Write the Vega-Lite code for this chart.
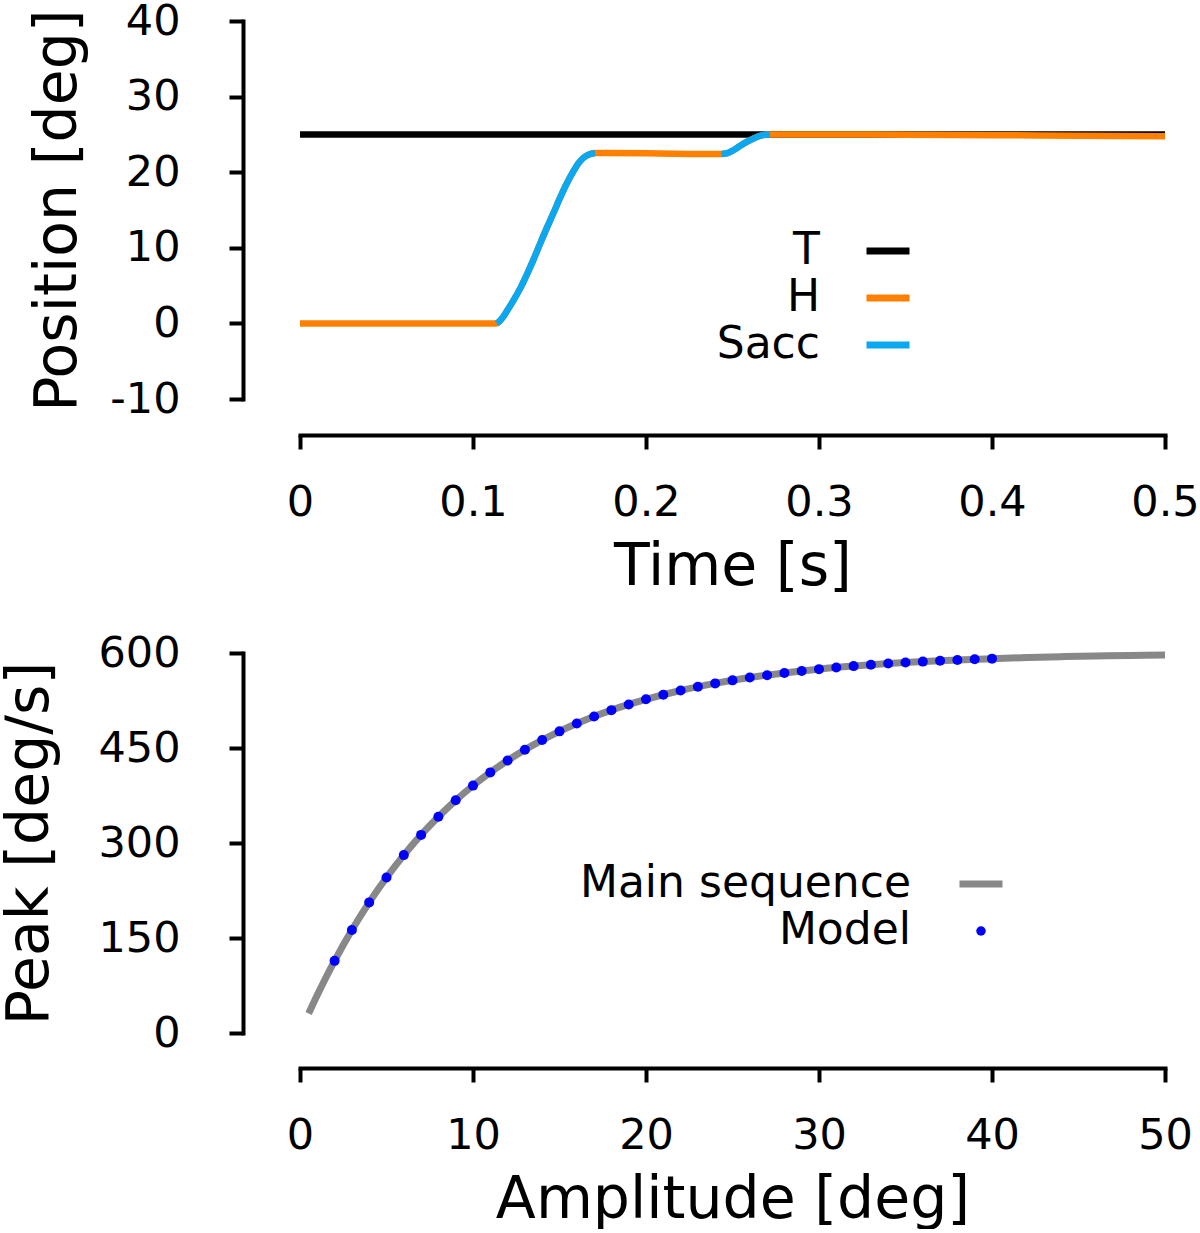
{
  "$schema": "https://vega.github.io/schema/vega-lite/v6.json",
  "background": "white",
  "padding": {"left": 0, "top": 0, "right": 0, "bottom": 0},
  "spacing": 254,
  "bounds": "flush",
  "resolve": {"scale": {"color": "independent"}, "legend": {"color": "independent"}},
  "config": {
    "view": {"stroke": null},
    "font": "DejaVu Sans",
    "axis": {
      "domainColor": "#000000", "domainWidth": 4, "domainCap": "square",
      "tickColor": "#000000", "tickWidth": 4, "tickSize": 14,
      "labelFont": "DejaVu Sans", "labelFontSize": 43, "labelColor": "#000000",
      "titleFont": "DejaVu Sans", "titleFontSize": 58.5, "titleFontWeight": "normal", "titleColor": "#000000",
      "grid": false, "labelFlush": false, "labelOverlap": false,
      "labelExpr": "'' + datum.value"
    },
    "axisY": {"labelPadding": 49},
    "axisX": {"labelPadding": 32, "titlePadding": 14},
    "legend": {
      "orient": "none", "title": null, "padding": 0,
      "labelFont": "DejaVu Sans", "labelFontSize": 44, "labelColor": "#000000",
      "labelAlign": "right", "labelOffset": -93, "labelLimit": 700,
      "symbolType": "stroke", "symbolSize": 1849, "symbolStrokeWidth": 7,
      "rowPadding": 4
    }
  },
  "vconcat": [
    {
      "width": 865,
      "height": 378,
      "data": {"values": [
        {"series": "T", "seg": 0, "t": 0, "pos": 25},
        {"series": "T", "seg": 0, "t": 0.5, "pos": 25},
        {"series": "H", "seg": 0, "t": 0, "pos": 0},
        {"series": "H", "seg": 0, "t": 0.1137, "pos": 0},
        {"series": "H", "seg": 0, "t": 0.1156, "pos": 0.35},
        {"series": "H", "seg": 0, "t": 0.1175, "pos": 0.9},
        {"series": "H", "seg": 0, "t": 0.1195, "pos": 1.6},
        {"series": "H", "seg": 0, "t": 0.1233, "pos": 3.0},
        {"series": "H", "seg": 0, "t": 0.1272, "pos": 4.6},
        {"series": "H", "seg": 0, "t": 0.131, "pos": 6.4},
        {"series": "H", "seg": 0, "t": 0.1349, "pos": 8.4},
        {"series": "H", "seg": 0, "t": 0.1387, "pos": 10.5},
        {"series": "H", "seg": 0, "t": 0.1426, "pos": 12.6},
        {"series": "H", "seg": 0, "t": 0.1465, "pos": 14.6},
        {"series": "H", "seg": 0, "t": 0.1503, "pos": 16.6},
        {"series": "H", "seg": 0, "t": 0.1542, "pos": 18.5},
        {"series": "H", "seg": 0, "t": 0.158, "pos": 20.1},
        {"series": "H", "seg": 0, "t": 0.161, "pos": 21.2},
        {"series": "H", "seg": 0, "t": 0.1638, "pos": 21.9},
        {"series": "H", "seg": 0, "t": 0.1665, "pos": 22.3},
        {"series": "H", "seg": 0, "t": 0.1705, "pos": 22.55},
        {"series": "H", "seg": 0, "t": 0.2, "pos": 22.5},
        {"series": "H", "seg": 0, "t": 0.2437, "pos": 22.4},
        {"series": "H", "seg": 0, "t": 0.2475, "pos": 22.55},
        {"series": "H", "seg": 0, "t": 0.2505, "pos": 22.9},
        {"series": "H", "seg": 0, "t": 0.2545, "pos": 23.5},
        {"series": "H", "seg": 0, "t": 0.2582, "pos": 24.0},
        {"series": "H", "seg": 0, "t": 0.2625, "pos": 24.5},
        {"series": "H", "seg": 0, "t": 0.2659, "pos": 24.8},
        {"series": "H", "seg": 0, "t": 0.269, "pos": 24.95},
        {"series": "H", "seg": 0, "t": 0.2717, "pos": 25.0},
        {"series": "H", "seg": 0, "t": 0.3, "pos": 25.0},
        {"series": "H", "seg": 0, "t": 0.35, "pos": 24.95},
        {"series": "H", "seg": 0, "t": 0.4, "pos": 24.9},
        {"series": "H", "seg": 0, "t": 0.45, "pos": 24.82},
        {"series": "H", "seg": 0, "t": 0.5, "pos": 24.75},
        {"series": "Sacc", "seg": 1, "t": 0.1137, "pos": 0},
        {"series": "Sacc", "seg": 1, "t": 0.1156, "pos": 0.35},
        {"series": "Sacc", "seg": 1, "t": 0.1175, "pos": 0.9},
        {"series": "Sacc", "seg": 1, "t": 0.1195, "pos": 1.6},
        {"series": "Sacc", "seg": 1, "t": 0.1233, "pos": 3.0},
        {"series": "Sacc", "seg": 1, "t": 0.1272, "pos": 4.6},
        {"series": "Sacc", "seg": 1, "t": 0.131, "pos": 6.4},
        {"series": "Sacc", "seg": 1, "t": 0.1349, "pos": 8.4},
        {"series": "Sacc", "seg": 1, "t": 0.1387, "pos": 10.5},
        {"series": "Sacc", "seg": 1, "t": 0.1426, "pos": 12.6},
        {"series": "Sacc", "seg": 1, "t": 0.1465, "pos": 14.6},
        {"series": "Sacc", "seg": 1, "t": 0.1503, "pos": 16.6},
        {"series": "Sacc", "seg": 1, "t": 0.1542, "pos": 18.5},
        {"series": "Sacc", "seg": 1, "t": 0.158, "pos": 20.1},
        {"series": "Sacc", "seg": 1, "t": 0.161, "pos": 21.2},
        {"series": "Sacc", "seg": 1, "t": 0.1638, "pos": 21.9},
        {"series": "Sacc", "seg": 1, "t": 0.1665, "pos": 22.3},
        {"series": "Sacc", "seg": 1, "t": 0.1705, "pos": 22.55},
        {"series": "Sacc", "seg": 2, "t": 0.2437, "pos": 22.4},
        {"series": "Sacc", "seg": 2, "t": 0.2475, "pos": 22.55},
        {"series": "Sacc", "seg": 2, "t": 0.2505, "pos": 22.9},
        {"series": "Sacc", "seg": 2, "t": 0.2545, "pos": 23.5},
        {"series": "Sacc", "seg": 2, "t": 0.2582, "pos": 24.0},
        {"series": "Sacc", "seg": 2, "t": 0.2625, "pos": 24.5},
        {"series": "Sacc", "seg": 2, "t": 0.2659, "pos": 24.8},
        {"series": "Sacc", "seg": 2, "t": 0.269, "pos": 24.95},
        {"series": "Sacc", "seg": 2, "t": 0.2717, "pos": 25.0}
      ]},
      "encoding": {
        "x": {"field": "t", "type": "quantitative",
              "scale": {"domain": [0, 0.5], "nice": false, "zero": false},
              "axis": {"title": "Time [s]", "values": [0, 0.1, 0.2, 0.3, 0.4, 0.5], "offset": 36}},
        "y": {"field": "pos", "type": "quantitative",
              "scale": {"domain": [-10, 40], "nice": false},
              "axis": {"title": "Position [deg]", "values": [-10, 0, 10, 20, 30, 40], "offset": 57, "titlePadding": 22}},
        "color": {"field": "series", "type": "nominal",
                  "scale": {"domain": ["T", "H", "Sacc"], "range": ["#000000", "#ff8000", "#0aa8f0"]},
                  "legend": {"legendX": 563, "legendY": 205, "rowPadding": 0}}
      },
      "layer": [
        {"transform": [{"filter": "datum.series === 'T'"}],
         "mark": {"type": "line", "strokeWidth": 6.5}},
        {"transform": [{"filter": "datum.series === 'H'"}],
         "mark": {"type": "line", "strokeWidth": 6.5, "interpolate": "monotone"}},
        {"transform": [{"filter": "datum.series === 'Sacc'"}],
         "mark": {"type": "line", "strokeWidth": 6.5, "interpolate": "monotone"},
         "encoding": {"detail": {"field": "seg", "type": "nominal"}}}
      ]
    },
    {
      "width": 865,
      "height": 380,
      "data": {"values": [
        {"series": "Main sequence", "a": 0.5, "v": 30.8},
        {"series": "Main sequence", "a": 1, "v": 59.9},
        {"series": "Main sequence", "a": 1.5, "v": 87.6},
        {"series": "Main sequence", "a": 2, "v": 113.9},
        {"series": "Main sequence", "a": 3, "v": 162.5},
        {"series": "Main sequence", "a": 4, "v": 206.2},
        {"series": "Main sequence", "a": 5, "v": 245.5},
        {"series": "Main sequence", "a": 6, "v": 280.9},
        {"series": "Main sequence", "a": 7, "v": 312.8},
        {"series": "Main sequence", "a": 8, "v": 341.5},
        {"series": "Main sequence", "a": 9, "v": 367.4},
        {"series": "Main sequence", "a": 10, "v": 390.6},
        {"series": "Main sequence", "a": 11, "v": 411.5},
        {"series": "Main sequence", "a": 12, "v": 430.3},
        {"series": "Main sequence", "a": 13, "v": 447.3},
        {"series": "Main sequence", "a": 14, "v": 462.5},
        {"series": "Main sequence", "a": 15, "v": 476.3},
        {"series": "Main sequence", "a": 16, "v": 488.6},
        {"series": "Main sequence", "a": 17, "v": 499.8},
        {"series": "Main sequence", "a": 18, "v": 509.8},
        {"series": "Main sequence", "a": 19, "v": 518.8},
        {"series": "Main sequence", "a": 20, "v": 526.9},
        {"series": "Main sequence", "a": 22, "v": 540.8},
        {"series": "Main sequence", "a": 24, "v": 552.0},
        {"series": "Main sequence", "a": 26, "v": 561.2},
        {"series": "Main sequence", "a": 28, "v": 568.5},
        {"series": "Main sequence", "a": 30, "v": 574.5},
        {"series": "Main sequence", "a": 32, "v": 579.3},
        {"series": "Main sequence", "a": 34, "v": 583.3},
        {"series": "Main sequence", "a": 36, "v": 586.4},
        {"series": "Main sequence", "a": 38, "v": 589.0},
        {"series": "Main sequence", "a": 40, "v": 591.1},
        {"series": "Main sequence", "a": 42, "v": 592.8},
        {"series": "Main sequence", "a": 44, "v": 594.2},
        {"series": "Main sequence", "a": 46, "v": 595.3},
        {"series": "Main sequence", "a": 48, "v": 596.2},
        {"series": "Main sequence", "a": 50, "v": 596.9},
        {"series": "Model", "a": 2, "v": 113.9},
        {"series": "Model", "a": 3, "v": 162.5},
        {"series": "Model", "a": 4, "v": 206.2},
        {"series": "Model", "a": 5, "v": 245.5},
        {"series": "Model", "a": 6, "v": 280.9},
        {"series": "Model", "a": 7, "v": 312.8},
        {"series": "Model", "a": 8, "v": 341.5},
        {"series": "Model", "a": 9, "v": 367.4},
        {"series": "Model", "a": 10, "v": 390.6},
        {"series": "Model", "a": 11, "v": 411.5},
        {"series": "Model", "a": 12, "v": 430.3},
        {"series": "Model", "a": 13, "v": 447.3},
        {"series": "Model", "a": 14, "v": 462.5},
        {"series": "Model", "a": 15, "v": 476.3},
        {"series": "Model", "a": 16, "v": 488.6},
        {"series": "Model", "a": 17, "v": 499.8},
        {"series": "Model", "a": 18, "v": 509.8},
        {"series": "Model", "a": 19, "v": 518.8},
        {"series": "Model", "a": 20, "v": 526.9},
        {"series": "Model", "a": 21, "v": 534.2},
        {"series": "Model", "a": 22, "v": 540.8},
        {"series": "Model", "a": 23, "v": 546.7},
        {"series": "Model", "a": 24, "v": 552.0},
        {"series": "Model", "a": 25, "v": 556.8},
        {"series": "Model", "a": 26, "v": 561.2},
        {"series": "Model", "a": 27, "v": 565.0},
        {"series": "Model", "a": 28, "v": 568.5},
        {"series": "Model", "a": 29, "v": 571.7},
        {"series": "Model", "a": 30, "v": 574.5},
        {"series": "Model", "a": 31, "v": 577.0},
        {"series": "Model", "a": 32, "v": 579.3},
        {"series": "Model", "a": 33, "v": 581.4},
        {"series": "Model", "a": 34, "v": 583.3},
        {"series": "Model", "a": 35, "v": 584.9},
        {"series": "Model", "a": 36, "v": 586.4},
        {"series": "Model", "a": 37, "v": 587.8},
        {"series": "Model", "a": 38, "v": 589.0},
        {"series": "Model", "a": 39, "v": 590.1},
        {"series": "Model", "a": 40, "v": 591.1}
      ]},
      "encoding": {
        "x": {"field": "a", "type": "quantitative",
              "scale": {"domain": [0, 50], "nice": false},
              "axis": {"title": "Amplitude [deg]", "values": [0, 10, 20, 30, 40, 50], "offset": 35}},
        "y": {"field": "v", "type": "quantitative",
              "scale": {"domain": [0, 600], "nice": false},
              "axis": {"title": "Peak [deg/s]", "values": [0, 150, 300, 450, 600], "offset": 57, "titlePadding": 38}},
        "color": {"field": "series", "type": "nominal",
                  "scale": {"domain": ["Main sequence", "Model"], "range": ["#888888", "#0000ff"]},
                  "legend": {"legendX": 659, "legendY": 209, "labelOffset": -92, "rowPadding": 3,
                    "encode": {"symbols": {"update": {
                      "shape": {"signal": "datum.value === 'Model' ? 'circle' : 'stroke'"},
                      "size": {"signal": "datum.value === 'Model' ? 90 : 1849"},
                      "strokeWidth": {"signal": "datum.value === 'Model' ? 0 : 7"},
                      "fill": {"signal": "datum.value === 'Model' ? '#0000ff' : 'transparent'"},
                      "stroke": {"signal": "datum.value === 'Model' ? '#0000ff' : '#888888'"},
                      "opacity": {"value": 1}
                    }}}}}
      },
      "layer": [
        {"transform": [{"filter": "datum.series === 'Main sequence'"}],
         "mark": {"type": "line", "strokeWidth": 7, "interpolate": "monotone"}},
        {"transform": [{"filter": "datum.series === 'Model'"}],
         "mark": {"type": "point", "filled": true, "size": 100, "opacity": 1}}
      ]
    }
  ]
}
